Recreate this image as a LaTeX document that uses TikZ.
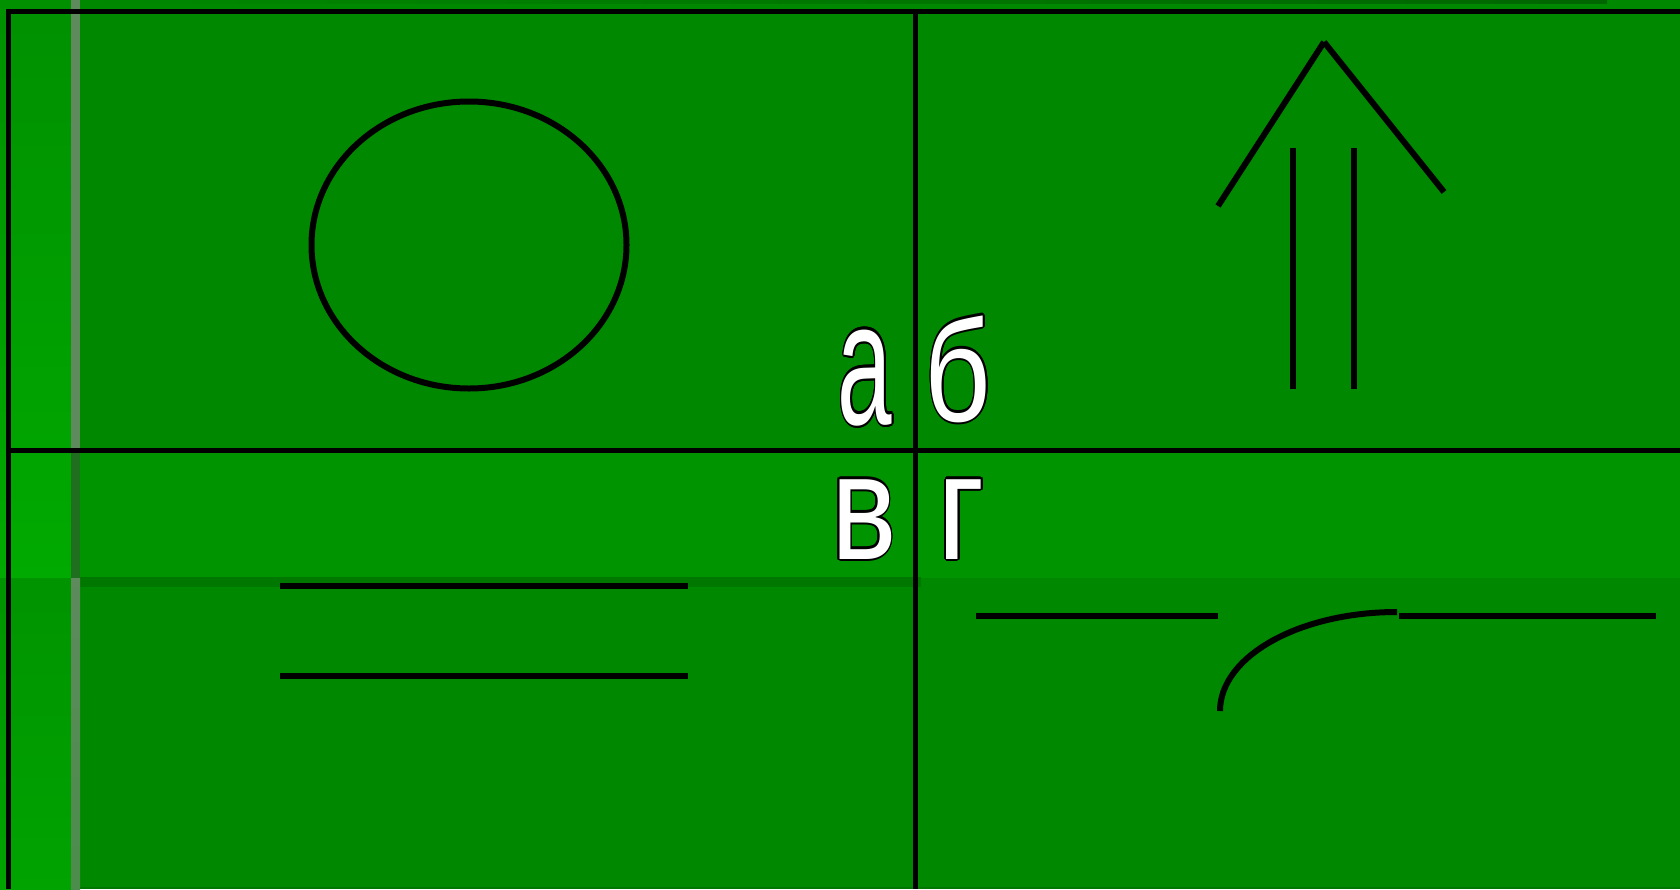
\documentclass[tikz,border=0pt]{standalone}
\usepackage{fontspec}
\setmainfont{Liberation Sans}
\usepackage{xcolor}
\usepackage{graphicx}
\usepackage[copies]{contour}
\usepackage{tikz}
\definecolor{zeminYesil}{HTML}{008800}
\definecolor{bantYesil}{HTML}{009500}
\definecolor{golgeYesil}{HTML}{007800}
\definecolor{solSeritUst}{HTML}{009000}
\definecolor{solSeritBant}{HTML}{00AA00}
\definecolor{solSeritAlt}{HTML}{00A300}
\definecolor{griSerit}{HTML}{5E8A5E}
\definecolor{griSeritKoyu}{HTML}{1F6F1F}
\definecolor{griSeritAlt}{HTML}{4C8C4C}
\definecolor{ustSeritKoyu}{HTML}{006600}
\contourlength{1.4pt}
\newcommand{\harf}[3]{\scalebox{#1}[#2]{\contour{black}{\textcolor{white}{#3}}}}
\tikzset{harfDugum/.style={anchor=base,inner sep=0pt,font=\fontsize{100}{100}\selectfont}}

\begin{document}
\begin{tikzpicture}[x=1pt,y=-1pt]
\useasboundingbox (0,0) rectangle (1680,889);
% zemin
\fill[zeminYesil] (0,0) rectangle (1680,889);
\fill[bantYesil] (11,453) rectangle (1680,578);
\fill[golgeYesil] (80,577) rectangle (921,587);
\shade[left color=zeminYesil,right color=ustSeritKoyu] (80,0) rectangle (1607,3);
\fill[golgeYesil] (80,887) rectangle (1680,889);
\shade[top color=solSeritUst,bottom color=solSeritBant] (0,0) rectangle (71,578);
\shade[top color=solSeritUst!80!solSeritAlt,bottom color=solSeritAlt] (0,578) rectangle (71,889);
\fill[griSerit] (71,0) rectangle (80,453);
\fill[griSeritKoyu] (71,453) rectangle (80,578);
\shade[top color=griSerit,bottom color=griSeritAlt] (71,578) rectangle (80,889);
% cizgiler
\draw[line width=5pt] (6,11.5) -- (1680,11.5);
\draw[line width=5pt] (8.5,9) -- (8.5,889);
\draw[line width=5pt] (6,450) -- (1680,450);
\draw[line width=5pt] (915,9) -- (915,889);
% sekiller
\draw[line width=6pt] (469,245) ellipse [x radius=157.5,y radius=143.5];
\draw[line width=6pt] (1324,42) -- (1218,206);
\draw[line width=6pt] (1324,42) -- (1444,192);
\draw[line width=6pt] (1293,148) -- (1293,389);
\draw[line width=6pt] (1354,148) -- (1354,389);
\draw[line width=6pt] (280,586) -- (688,586);
\draw[line width=6pt] (280,676) -- (688,676);
\draw[line width=6pt] (976,616) -- (1218,616);
\draw[line width=6pt] (1220,711) arc [start angle=180,end angle=270,x radius=177,y radius=99];
\draw[line width=6pt] (1399,616) -- (1656,616);
% harfler
\node[harfDugum] (a) at (865,424) {\harf{0.98}{1.755}{а}};
\node[harfDugum] (b) at (958,421) {\harf{1.16}{1.44}{б}};
\node[harfDugum] (v) at (864,559) {\harf{1.235}{1.51}{в}};
\node[harfDugum] (g) at (961.5,559) {\harf{1.30}{1.51}{г}};
\end{tikzpicture}
\end{document}
